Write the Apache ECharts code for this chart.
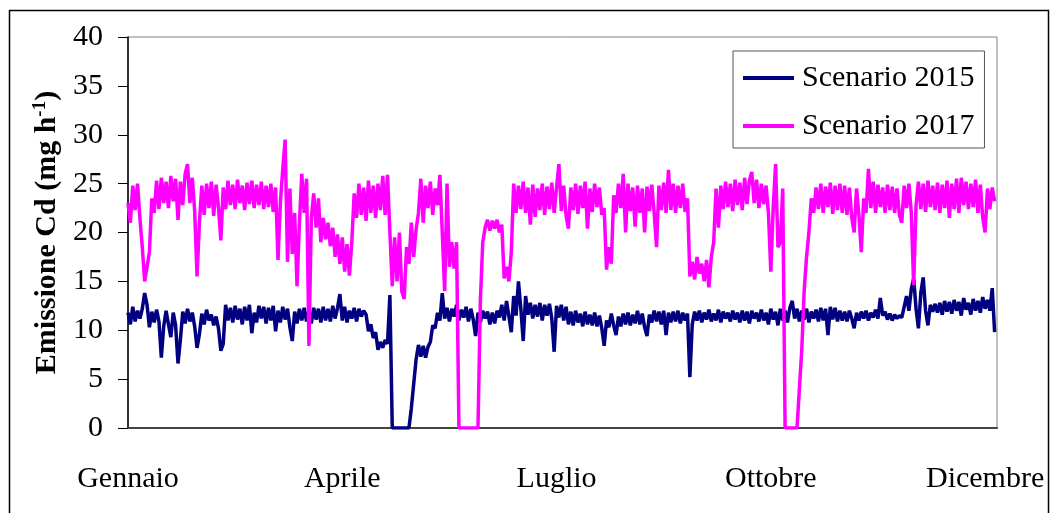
<!DOCTYPE html>
<html>
<head>
<meta charset="utf-8">
<script src="https://cdn.jsdelivr.net/npm/echarts@6/dist/echarts.min.js"></script>
<style>
html,body{margin:0;padding:0;background:#fff;}
#c{width:1051px;height:513px;}
</style>
</head>
<body>
<div id="c"></div>
<script>
// Tick labels on the time axis (hour of the year where each label sits)
const monthLabels = ['Gennaio', 'Aprile', 'Luglio', 'Ottobre', 'Dicembre'];
const monthHours = [0, 2160, 4320, 6480, 8640];
const seriesNames = ['Scenario 2015', 'Scenario 2017'];
const stepHours = 24; // one reading per day

// Scenario 2015 (mg h-1), one value per day, day 0 .. 364
const scen2015 = [
 11.8,10.6,12.4,10.9,12.0,11.2,12.2,13.8,12.6,10.3,
 11.9,10.8,12.1,10.9,7.2,10.4,12.0,10.6,9.3,11.8,
 10.5,6.6,9.0,11.9,10.7,12.2,10.9,11.8,10.4,8.2,
 9.6,11.7,10.6,12.1,11.0,11.6,10.5,11.4,10.2,7.9,
 8.6,12.6,11.0,12.3,10.8,12.5,11.1,12.2,10.6,12.4,
 11.0,12.6,9.7,11.8,10.8,12.5,11.2,12.4,10.7,12.3,
 11.0,12.5,9.9,12.0,10.8,12.4,11.1,12.2,10.3,8.9,
 11.9,10.7,12.2,11.0,12.3,10.9,12.0,10.7,12.3,11.1,
 12.2,10.8,12.4,11.0,12.2,10.9,12.5,11.2,12.3,13.7,
 11.0,12.4,10.8,12.0,11.2,12.3,10.9,12.2,11.4,12.0,
 11.6,9.9,10.6,9.2,9.8,8.0,8.8,8.2,9.0,8.6,
 13.6,0,0,0,0,0,0,0,0,2.0,
 4.5,7.0,8.5,7.3,8.4,7.2,8.3,8.8,10.5,10.2,
 11.8,11.0,13.8,11.2,12.3,10.9,12.2,11.4,12.6,11.0,
 12.1,11.3,12.4,10.9,12.2,11.1,9.4,11.8,10.8,12.0,
 11.2,11.9,10.6,11.8,10.7,12.0,11.3,12.6,11.0,13.0,
 11.4,9.8,13.5,11.5,15.0,12.2,8.9,13.5,11.6,12.8,
 11.2,12.6,11.4,12.8,11.0,12.6,11.5,12.7,11.2,7.8,
 12.5,11.3,12.6,11.0,12.4,10.6,11.9,10.5,12.0,10.8,
 11.7,10.4,11.9,10.6,11.6,10.5,11.8,10.4,11.5,10.2,
 8.4,11.0,10.3,11.7,10.5,9.5,11.4,10.4,11.7,10.6,
 11.8,10.5,11.6,10.7,12.0,10.6,11.7,10.3,9.4,11.6,
 10.8,12.0,10.9,11.9,10.6,12.0,9.5,11.8,10.8,11.9,
 10.9,12.0,10.7,11.8,11.0,11.7,5.2,10.6,11.9,11.0,
 12.0,10.8,11.8,11.1,12.1,10.9,11.7,11.0,12.1,10.8,
 11.9,11.2,11.8,10.9,12.0,11.1,11.8,10.8,12.0,11.0,
 11.9,10.7,12.0,11.2,11.8,10.9,12.1,11.0,11.8,10.6,
 12.2,11.1,11.9,10.5,12.2,11.0,12.0,10.8,12.3,13.0,
 11.2,12.2,10.9,12.0,11.1,12.2,10.8,11.9,11.2,12.1,
 10.9,12.3,11.0,12.2,9.5,12.4,11.1,12.3,10.9,12.0,
 11.0,11.9,10.9,12.0,11.2,10.2,11.8,11.0,11.9,11.2,
 12.0,11.0,11.8,11.3,12.1,11.2,13.3,11.5,11.9,11.1,
 11.7,11.0,11.6,11.2,11.5,11.3,12.4,13.5,12.0,14.2,
 15.3,12.2,10.2,13.8,15.4,12.0,10.5,12.6,11.9,12.7,
 11.8,12.8,11.6,13.0,11.9,12.9,11.7,13.1,12.0,12.9,
 11.5,13.3,12.1,12.8,11.6,13.2,12.0,13.0,11.8,13.4,
 12.2,13.1,12.0,14.3,9.8
];

// Scenario 2017 (mg h-1), one value per day, day 0 .. 364
const scen2017 = [
 23.0,21.0,24.8,22.3,25.0,21.5,18.5,15.0,16.5,18.0,
 23.5,22.0,25.3,22.4,25.6,23.0,25.2,22.5,25.8,23.2,
 25.5,21.3,25.2,22.8,26.0,27.0,23.0,25.6,22.2,15.5,
 21.0,24.8,21.8,25.0,22.5,25.2,21.7,24.9,22.6,19.2,
 24.6,22.4,25.3,22.8,24.9,22.4,25.4,23.0,24.8,22.3,
 25.1,22.9,25.3,22.5,24.9,22.8,25.2,22.4,24.8,22.6,
 25.0,22.1,24.6,17.2,23.0,26.5,29.5,17.0,24.5,17.8,
 22.0,14.5,21.0,26.0,22.0,25.5,8.4,21.5,24.0,20.5,
 23.5,19.0,21.5,19.3,21.0,18.6,20.5,17.5,19.8,16.8,
 19.5,16.0,18.8,15.6,19.0,24.0,21.5,25.0,21.8,24.6,
 21.2,25.3,22.0,24.8,21.5,25.0,22.3,25.8,21.8,25.9,
 20.0,14.5,19.5,15.0,20.0,14.0,13.2,18.5,16.8,21.0,
 17.5,20.3,22.0,25.5,21.0,24.8,22.5,25.2,21.8,24.5,
 22.8,25.9,20.0,14.0,25.0,16.5,19.0,16.3,19.0,0,
 0,0,0,0,0,0,0,0,13.0,19.0,
 20.5,21.3,20.2,21.2,20.4,21.3,20.0,20.8,15.3,16.5,
 15.0,18.0,25.0,22.0,24.8,22.4,25.2,22.0,24.6,20.8,
 24.9,21.6,24.5,22.3,25.0,21.8,24.7,22.4,25.1,22.0,
 24.6,27.0,22.2,24.8,21.7,20.4,24.6,22.3,25.0,21.9,
 24.8,22.5,25.2,20.4,24.5,22.1,25.0,22.6,24.6,21.8,
 22.5,16.2,18.5,16.8,23.8,22.0,25.0,22.5,26.0,20.0,
 25.0,22.2,24.6,20.6,24.8,22.0,24.5,20.0,24.7,22.2,
 24.9,22.0,18.5,24.8,22.3,25.1,22.0,26.4,22.3,25.0,
 22.0,24.8,22.5,25.0,22.1,23.5,15.5,17.0,15.2,17.5,
 15.8,16.8,15.0,17.2,14.4,17.5,19.0,24.5,20.5,24.8,
 22.4,25.2,22.6,25.0,22.2,25.4,22.8,25.1,22.3,25.6,
 22.9,25.3,26.2,23.0,25.4,22.5,25.0,22.9,24.8,22.0,
 16.0,22.5,27.0,18.5,19.0,24.5,0,0,0,0,
 0,0,4.0,8.0,14.0,17.5,20.0,23.5,22.0,24.6,
 22.4,25.0,22.0,24.7,22.6,25.1,21.9,24.8,22.3,25.0,
 22.0,24.8,21.8,24.6,21.5,20.0,24.5,21.8,18.0,23.5,
 22.0,26.5,22.5,25.2,22.0,24.9,22.6,24.6,22.0,24.9,
 22.3,24.7,22.0,24.5,21.8,21.0,24.8,22.5,25.0,22.0,
 14.6,22.8,25.2,22.4,25.0,22.1,25.3,22.6,24.8,22.3,
 25.1,22.0,24.9,22.5,25.3,21.5,25.0,22.4,25.5,22.0,
 25.6,22.8,25.2,22.4,25.0,22.6,25.4,22.0,24.9,21.5,
 20.0,24.5,22.4,24.6,23.2
];

const serif = '"Liberation Serif", "Times New Roman", serif';
const toPairs = arr => arr.map((v, i) => [i * stepHours, v]);

const chart = echarts.init(document.getElementById('c'), null, {renderer: 'canvas'});
chart.setOption({
  animation: false,
  backgroundColor: '#fff',
  graphic: [{
    type: 'rect',
    left: 7, top: 8,
    shape: {width: 1039, height: 520},
    style: {fill: 'none', stroke: '#000', lineWidth: 1.5},
    silent: true, z: -1
  }],
  grid: {
    left: 128, right: 54, top: 37, bottom: 85,
    show: true, borderColor: '#808080', borderWidth: 1, backgroundColor: 'transparent'
  },
  legend: {
    data: seriesNames,
    orient: 'vertical',
    left: 733, top: 51,
    padding: [12, 10, 7, 10],
    icon: 'rect',
    itemWidth: 51, itemHeight: 4, itemGap: 18,
    borderColor: '#555', borderWidth: 1,
    backgroundColor: '#fff',
    textStyle: {fontFamily: serif, fontSize: 30, color: '#000', padding: [0, 0, 0, 3]}
  },
  xAxis: {
    type: 'value',
    min: 0, max: 8760, interval: 2160,
    axisLine: {show: true, lineStyle: {color: '#444', width: 2}},
    axisTick: {show: false},
    splitLine: {show: false},
    axisLabel: {
      fontFamily: serif, fontSize: 30, color: '#000', margin: 36,
      showMaxLabel: true,
      formatter: v => { const i = monthHours.indexOf(v); return i >= 0 ? monthLabels[i] : ''; }
    }
  },
  yAxis: {
    type: 'value',
    min: 0, max: 40, interval: 5,
    name: 'Emissione Cd (mg h{s|-1})',
    nameLocation: 'middle',
    nameRotate: 90,
    nameGap: 64,
    nameTextStyle: {
      fontFamily: serif, fontSize: 30, fontWeight: 'bold', color: '#000',
      rich: {s: {fontFamily: serif, fontSize: 19, fontWeight: 'bold', color: '#000', verticalAlign: 'top', padding: [0, 0, 14, 0]}}
    },
    axisLine: {show: true, lineStyle: {color: '#000', width: 1.5}},
    axisTick: {show: true, inside: false, length: 10, lineStyle: {color: '#000', width: 1}},
    splitLine: {show: false},
    axisLabel: {fontFamily: serif, fontSize: 30, color: '#000', margin: 25}
  },
  series: [
    {
      name: seriesNames[0], type: 'line', symbol: 'none',
      data: toPairs(scen2015),
      color: '#000080',
      lineStyle: {color: '#000080', width: 3.5},
      z: 2
    },
    {
      name: seriesNames[1], type: 'line', symbol: 'none',
      data: toPairs(scen2017),
      color: '#FF00FF',
      lineStyle: {color: '#FF00FF', width: 3.5},
      z: 3
    }
  ]
});
</script>
</body>
</html>
